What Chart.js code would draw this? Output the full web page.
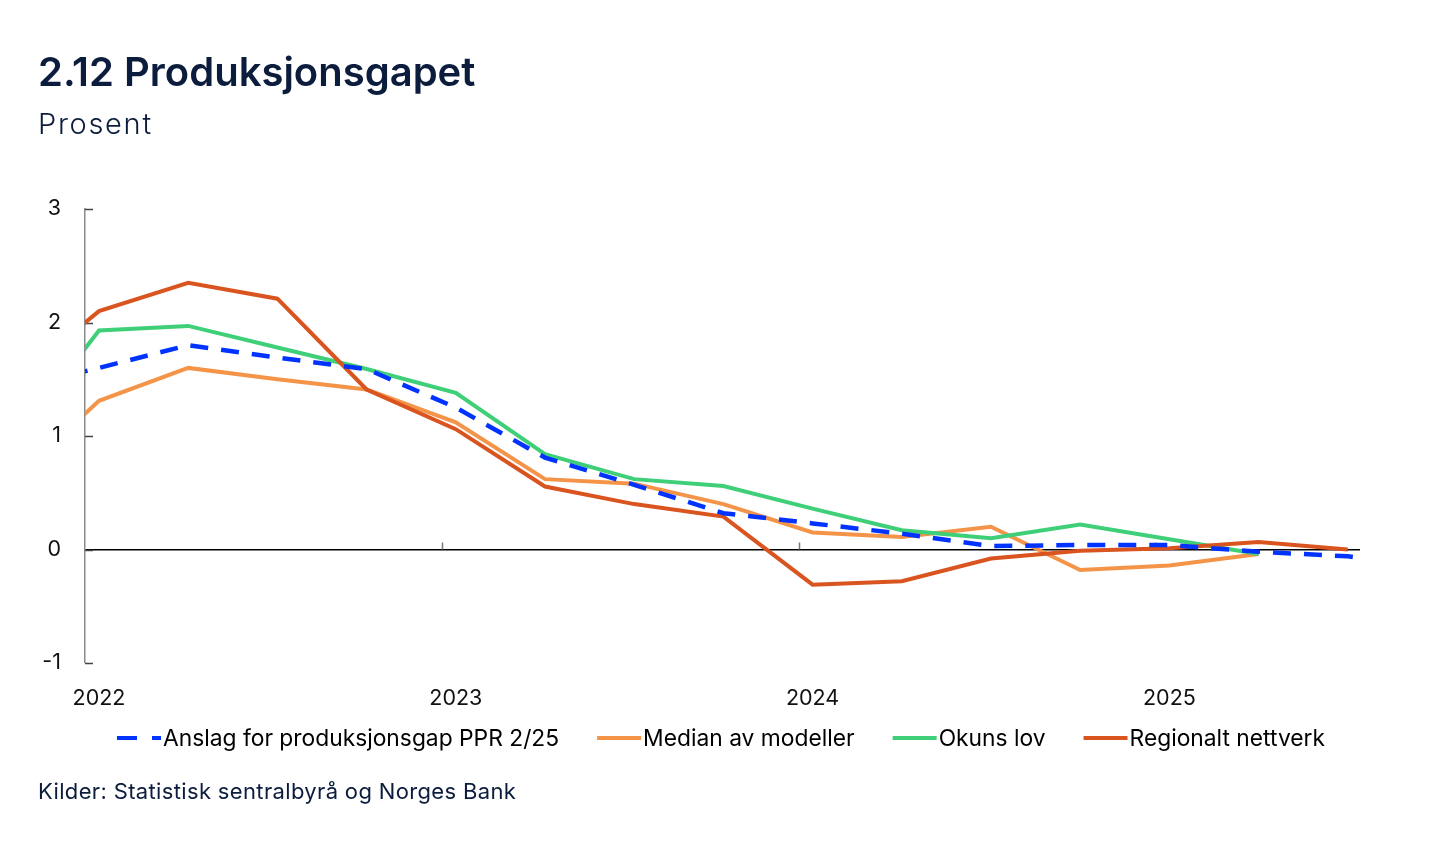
<!DOCTYPE html>
<html>
<head>
<meta charset="utf-8">
<script src="https://cdn.jsdelivr.net/npm/chart.js@4.4.1/dist/chart.umd.min.js"></script>
<style>
html,body{margin:0;padding:0;background:#fff;}
#wrap{position:relative;width:1445px;height:848px;overflow:hidden;font-family:Inter,"Noto Sans",sans-serif;}
#c{position:absolute;left:0;top:0;}
.t{position:absolute;white-space:nowrap;line-height:1;}
#title{left:38px;top:52px;font-size:40px;font-weight:600;color:#0b1c3d;letter-spacing:0px;}
#sub{left:38px;top:109px;font-size:29px;font-weight:300;color:#0b1c3d;letter-spacing:1.7px;}
#foot{left:38px;top:780px;font-size:22px;font-weight:400;color:#0b1c3d;letter-spacing:0.35px;}
</style>
</head>
<body>
<div id="wrap">
<canvas id="c" width="1445" height="848"></canvas>
<div class="t" id="title">2.12 Produksjonsgapet</div>
<div class="t" id="sub">Prosent</div>
<div class="t" id="foot">Kilder: Statistisk sentralbyrå og Norges Bank</div>
</div>
<script>
// Quarters (first is just outside the visible axis, clipped)
const quarters = ['2021K4','2022K1','2022K2','2022K3','2022K4','2023K1','2023K2','2023K3','2023K4','2024K1','2024K2','2024K3','2024K4','2025K1','2025K2','2025K3','2025K4'];
const yearLabels = ['2022','2023','2024','2025'];
const yearLabelQuarters = ['2022K1','2023K1','2024K1','2025K1'];
const yTicks = [-1,0,1,2,3];

const anslag   = [1.41,1.60,1.80,1.69,1.59,1.25,0.81,0.57,0.32,0.23,0.14,0.03,0.04,0.04,-0.02,-0.06,-0.18];
const median   = [0.58,1.31,1.60,1.50,1.41,1.12,0.62,0.58,0.40,0.15,0.11,0.20,-0.18,-0.14,-0.04,null,null];
const okun     = [0.91,1.93,1.97,1.78,1.59,1.38,0.84,0.62,0.56,0.36,0.17,0.10,0.22,0.09,-0.04,null,null];
const regional = [1.46,2.10,2.35,2.21,1.41,1.06,0.555,0.40,0.29,-0.31,-0.28,-0.08,-0.01,0.01,0.065,0.00,null];

const seriesNames = ['Anslag for produksjonsgap PPR 2/25','Median av modeller','Okuns lov','Regionalt nettverk'];
const seriesColors = ['#0033ff','#f39449','#3fcf78','#d9541f'];

// x position: index of quarter relative to 2022K1
const qx = q => quarters.indexOf(q) - 1;
const toPts = arr => arr.map((v,i)=>({x: qx(quarters[i]), y: v}));
const yearStartOffset = -0.157; // year boundary relative to Q1 point
const xMin = yearStartOffset;
const xMax = 14.137;
const yearBoundaries = [4,8,12].map(v => v + yearStartOffset);

const FONT = 'Inter, "Noto Sans", sans-serif';

const extras = {
  id:'extras',
  beforeDatasetsDraw(chart){
    const {ctx, chartArea, scales:{x,y}} = chart;
    ctx.save();
    ctx.strokeStyle = '#444';
    ctx.lineWidth = 1.5;
    yTicks.forEach(v=>{
      const py = Math.round(y.getPixelForValue(v))+0.5;
      ctx.beginPath(); ctx.moveTo(chartArea.left, py); ctx.lineTo(chartArea.left+8, py); ctx.stroke();
    });
    const y0 = y.getPixelForValue(0);
    ctx.strokeStyle = '#777';
    yearBoundaries.forEach(v=>{
      const px = Math.round(x.getPixelForValue(v))+0.5;
      ctx.beginPath(); ctx.moveTo(px, y0-7); ctx.lineTo(px, y0); ctx.stroke();
    });
    ctx.restore();
  },
  afterDraw(chart){
    const {ctx} = chart;
    ctx.save();
    ctx.font = '400 22.8px ' + FONT;
    const lineW = 44, gapT = 2, gapI = 38;
    const widths = seriesNames.map(n => ctx.measureText(n).width);
    let total = 0;
    widths.forEach((w,i)=>{ total += lineW + gapT + w + (i<widths.length-1?gapI:0); });
    let px = 721 - total/2;
    const ly = 738, tb = 745.5;
    seriesNames.forEach((n,i)=>{
      ctx.strokeStyle = seriesColors[i];
      ctx.lineWidth = 4;
      ctx.setLineDash(i===0 ? [20,15] : []);
      ctx.beginPath(); ctx.moveTo(px, ly); ctx.lineTo(px+lineW, ly); ctx.stroke();
      ctx.setLineDash([]);
      ctx.fillStyle = '#000';
      ctx.textBaseline = 'alphabetic';
      ctx.fillText(n, px+lineW+gapT, tb);
      px += lineW + gapT + widths[i] + gapI;
    });
    ctx.restore();
  }
};

const mk = (label, data, color, order, dash) => ({
  label, data: toPts(data), borderColor: color, backgroundColor: color,
  borderWidth: dash ? 4.5 : 4, borderDash: dash || [], pointRadius: 0, pointHoverRadius: 0,
  tension: 0, spanGaps: false, clip: 0, order, fill: false
});

new Chart(document.getElementById('c'), {
  type: 'line',
  data: {
    datasets: [
      mk(seriesNames[0], anslag, seriesColors[0], 0, [18,13]),
      mk(seriesNames[1], median, seriesColors[1], 3),
      mk(seriesNames[2], okun, seriesColors[2], 2),
      mk(seriesNames[3], regional, seriesColors[3], 1)
    ]
  },
  options: {
    responsive: false,
    animation: false,
    devicePixelRatio: 1,
    layout: { padding: { left: 0, top: 209, right: 85, bottom: 0 } },
    plugins: { legend: { display: false }, tooltip: { enabled: false }, title: { display: false } },
    scales: {
      x: {
        type: 'linear', min: xMin, max: xMax,
        grid: { display: false, drawTicks: false },
        border: { display: false },
        afterBuildTicks: s => { s.ticks = yearLabelQuarters.map(q => ({ value: qx(q) })); },
        afterFit: s => { s.height = 185; },
        ticks: {
          autoSkip: false, maxRotation: 0, padding: 23,
          color: '#111', font: { family: FONT, size: 21.5 },
          callback: v => yearLabels[yearLabelQuarters.map(qx).indexOf(v)]
        }
      },
      y: {
        min: -1, max: 3,
        afterBuildTicks: s => { s.ticks = yTicks.map(v => ({ value: v })); },
        afterFit: s => { s.width = 85; },
        grid: {
          drawTicks: false,
          color: c => c.tick && c.tick.value === 0 ? '#000' : 'rgba(0,0,0,0)',
          lineWidth: c => c.tick && c.tick.value === 0 ? 1.5 : 0
        },
        border: { display: true, color: '#8a8a8a', width: 1.5 },
        ticks: { padding: 24, color: '#111', font: { family: FONT, size: 21.5 } }
      }
    }
  },
  plugins: [extras]
});
</script>
</body>
</html>
